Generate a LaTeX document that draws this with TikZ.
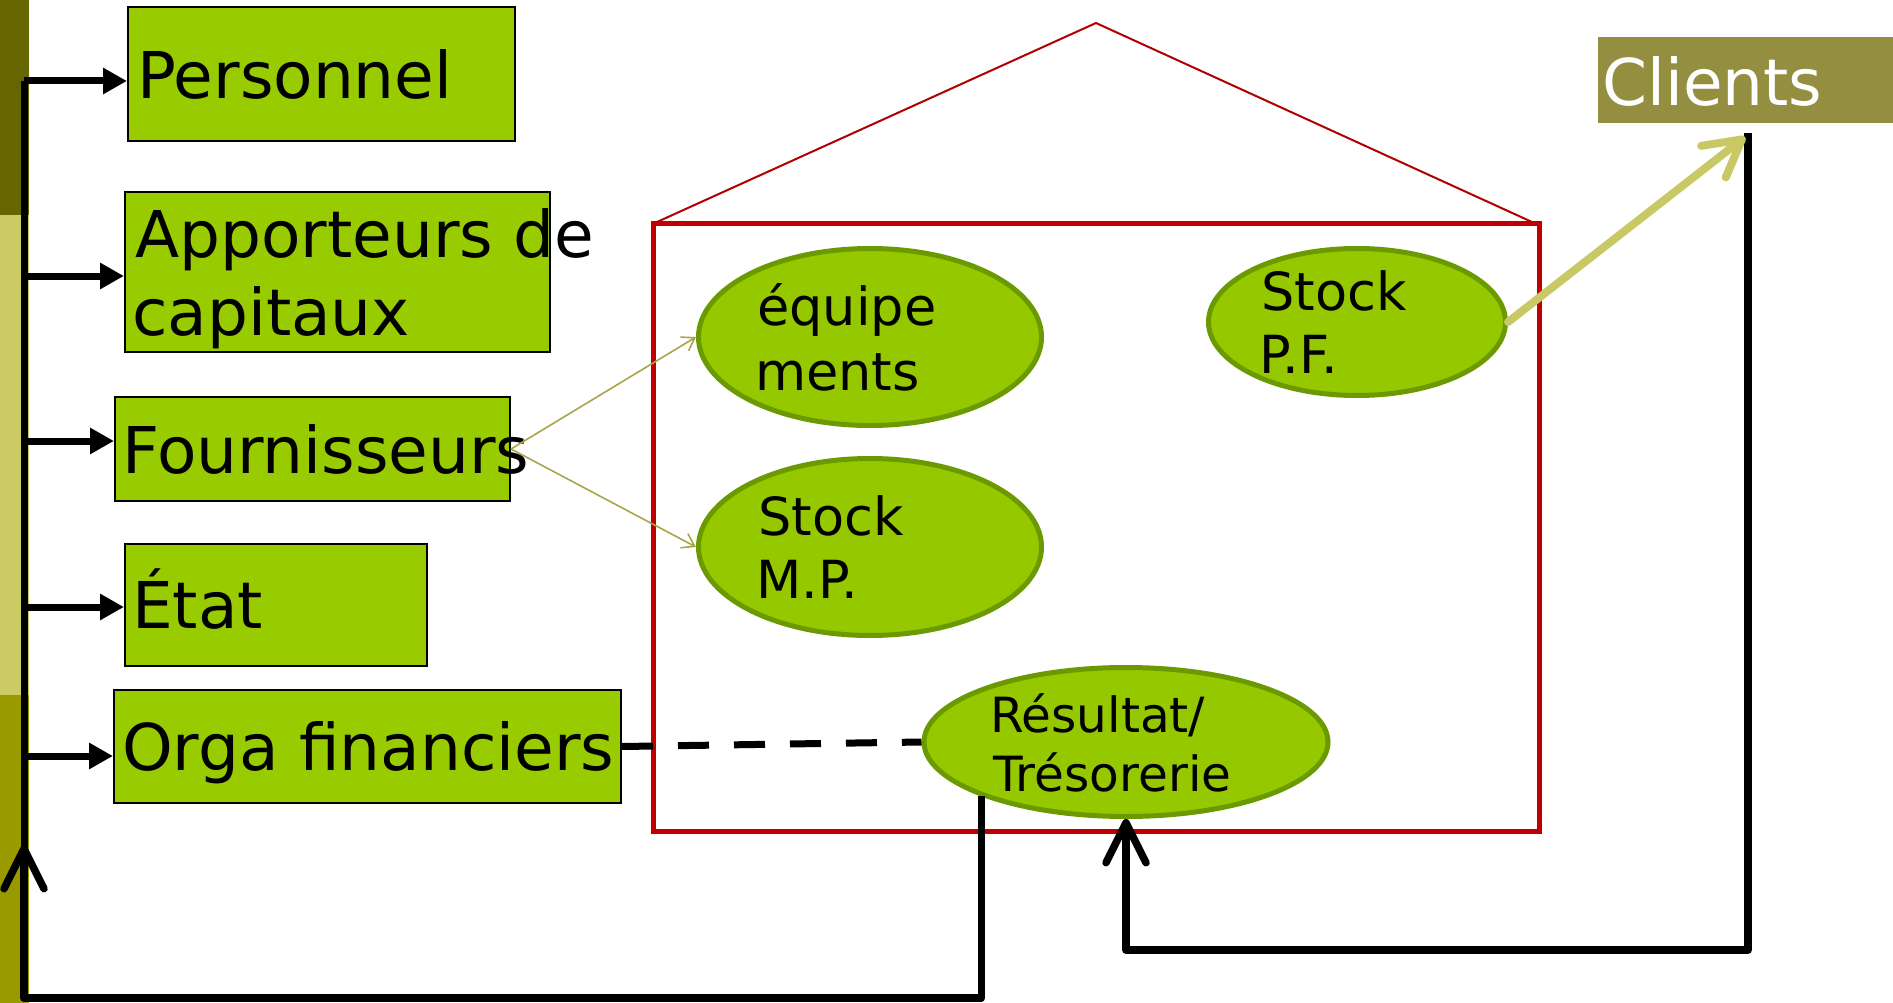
\documentclass[tikz,border=0pt]{standalone}
\usepackage{fontspec}
\setmainfont{DejaVu Sans}
\usetikzlibrary{arrows.meta,shapes.geometric}

\definecolor{boxgreen}{HTML}{99CC00}
\definecolor{ovalgreen}{HTML}{96C800}
\definecolor{ovalrim}{HTML}{6B9A00}
\definecolor{barA}{HTML}{666600}
\definecolor{barB}{HTML}{CCCC66}
\definecolor{barC}{HTML}{999900}
\definecolor{clientfill}{HTML}{948F40}
\definecolor{wallred}{HTML}{C00000}
\definecolor{roofred}{HTML}{B00000}
\definecolor{flowolive}{HTML}{AAA448}
\definecolor{saleolive}{HTML}{C8C864}

\tikzset{
  box/.style={draw=black, line width=2pt, fill=boxgreen, inner sep=0pt, anchor=north west},
  oval/.style={ellipse, draw=ovalrim, line width=5pt, fill=ovalgreen, inner sep=0pt},
  bigtext/.style={font=\fontsize{64.5}{75}\selectfont, inner sep=0pt, anchor=base west},
  ovaltext/.style={font=\fontsize{52.5}{62}\selectfont, inner sep=0pt, anchor=base west},
  restext/.style={font=\fontsize{48.5}{55}\selectfont, inner sep=0pt, anchor=base west},
  busline/.style={line width=7pt, draw=black},
  busarrow/.style={line width=7pt, draw=black, -{Triangle[length=24pt,width=25pt]}},
  loopline/.style={line width=7.5pt, draw=black, line join=round,
    -{Straight Barb[length=40pt,width=40pt,round]}},
  supply/.style={line width=1.6pt, draw=flowolive, -{Straight Barb[length=12pt,width=16pt]}},
  sale/.style={line width=8pt, draw=saleolive, line cap=round,
    -{Straight Barb[length=36pt,width=40pt,round]}},
}

\begin{document}
\begin{tikzpicture}[x=1pt, y=-1pt]
\useasboundingbox (0,0) rectangle (1893,1003);

% coloured side band
\fill[barA] (0,0) rectangle (29,215);
\fill[barB] (0,215) rectangle (29,695);
\fill[barC] (0,695) rectangle (29,1003);

% the firm: walls and roof
\draw[wallred, line width=5pt] (653,224) rectangle (1539,831);
\draw[roofred, line width=2pt, line join=miter] (657,222) -- (1096,23) -- (1532,222);

% stakeholders
\node[box, minimum width=387pt, minimum height=134pt] (pers) at (127,6) {};
\node[box, minimum width=425pt, minimum height=160pt] (app) at (124,191) {};
\node[box, minimum width=395pt, minimum height=104pt] (four) at (114,396) {};
\node[box, minimum width=302pt, minimum height=122pt] (etat) at (124,543) {};
\node[box, minimum width=507pt, minimum height=113pt] (orga) at (113,689) {};
\node[fill=clientfill, inner sep=0pt, anchor=north west,
      minimum width=295pt, minimum height=86pt] (clients) at (1598,37) {};

\node[bigtext] (perst) at (137,99) {Personnel};
\node[bigtext] (appt1) at (135,258) {Apporteurs de};
\node[bigtext] (appt2) at (132,335) {capitaux};
\node[bigtext] (fourt) at (122,473) {Fournisseurs};
\node[bigtext] (etatt) at (132,628) {État};
\node[bigtext] (orgat) at (122,770) {Orga financiers};
\node[bigtext, text=white] (clientst) at (1602,106) {Clients};

% inside the firm
\node[oval, minimum width=343pt, minimum height=177pt] (eq) at (870,337) {};
\node[oval, minimum width=343pt, minimum height=177pt] (smp) at (870,547) {};
\node[oval, minimum width=297pt, minimum height=147pt] (spf) at (1357,322) {};
\node[oval, minimum width=404pt, minimum height=149pt] (res) at (1126,742) {};

\node[ovaltext] (eqt1) at (757,325) {équipe};
\node[ovaltext] (eqt2) at (755,390) {ments};
\node[ovaltext] (smpt1) at (758,535) {Stock};
\node[ovaltext] (smpt2) at (756,598) {M.P.};
\node[ovaltext] (spft1) at (1261,310) {Stock};
\node[ovaltext] (spft2) at (1259,373) {P.F.};
\node[restext] (rest1) at (990,732) {Résultat/};
\node[restext] (rest2) at (993,791) {Trésorerie};

% distribution bus on the left
\coordinate (b1) at (24,81);
\coordinate (b2) at (24,276);
\coordinate (b3) at (24,441);
\coordinate (b4) at (24,607);
\coordinate (b5) at (24,756);
\coordinate (bbot) at (24,998);
\coordinate (bup) at (24,845);

\draw[busline] (bbot) -- (b1);
\draw[busarrow] (b1) -- (b1 -| pers.west);
\draw[busarrow] (b2) -- (b2 -| app.west);
\draw[busarrow] (b3) -- (b3 -| four.west);
\draw[busarrow] (b4) -- (b4 -| etat.west);
\draw[busarrow] (b5) -- (b5 -| orga.west);

% cash leaving the firm
\draw[loopline] (res.south west) -- (res.south west |- bbot) -- (bbot) -- (bup);

% cash coming from the clients
\coordinate (ctop) at (1748,133);
\coordinate (cbot) at (1748,950);
\draw[loopline] (ctop) -- (cbot) -| (res.south);

% purchases and sales
\draw[supply] (four.east) -- (eq.west);
\draw[supply] (four.east) -- (smp.west);
\coordinate (cltip) at (1745,137);
\draw[sale] (spf.east) -- (cltip);

% financing link
\draw[line width=7pt, dash pattern=on 31pt off 25pt] (orga.east) -- (res.west);
\end{tikzpicture}
\end{document}
